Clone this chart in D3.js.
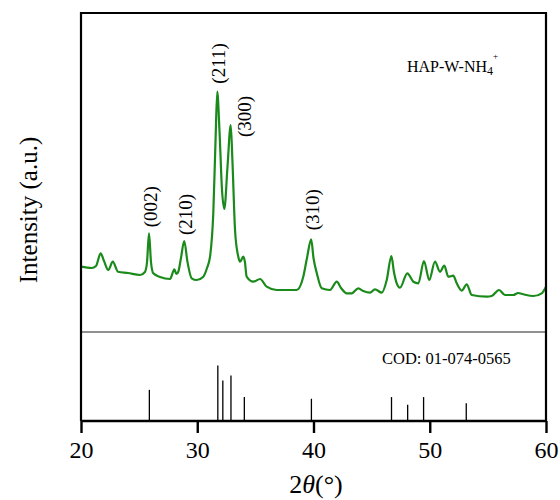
<!DOCTYPE html>
<html>
<head>
<meta charset="utf-8">
<script src="https://cdn.jsdelivr.net/npm/d3@7"></script>
<style>
  html, body { margin: 0; padding: 0; background: #fff; }
  svg { display: block; }
  svg text { font-family: "Liberation Serif", "Times New Roman", "DejaVu Serif", serif; fill: #000; }
  .frame { fill: none; stroke: #000; stroke-width: 2.2; }
  .axis path, .axis line { stroke: #000; stroke-width: 2.4; }
  .divider { stroke: #6b6b6b; stroke-width: 1.3; }
  .pattern { fill: none; stroke: #1a8a1a; stroke-width: 2.2; stroke-linejoin: round; }
  .stick { stroke: #000; stroke-width: 1.3; }
  .hkl { font-size: 19px; }
</style>
</head>
<body>
<svg id="chart" width="560" height="500"></svg>
<script>
  // measured pattern, HAP-W-NH4+ (2θ in degrees, intensity in counts)
  const twoTheta = [
    20.0, 20.92, 21.29, 21.69, 21.98, 22.35, 22.73, 23.18, 24.04, 25.08,
    25.5, 25.68, 25.85, 26.02, 26.22, 26.8, 27.66, 28.03, 28.2, 28.37,
    28.6, 28.88, 29.16, 29.52, 29.95, 30.52, 30.84, 31.1, 31.38, 31.57,
    31.72, 31.91, 32.13, 32.33, 32.6, 32.88, 33.03, 33.25, 33.5, 33.68,
    33.96, 34.1, 34.25, 34.82, 35.4, 35.97, 36.83, 38.55, 39.12, 39.44,
    39.8, 40.0, 40.28, 40.71, 41.42, 42.0, 42.37, 42.86, 43.29, 43.85,
    44.28, 44.86, 45.29, 45.87, 46.3, 46.7, 46.92, 47.16, 47.44, 48.07,
    48.59, 49.02, 49.5, 49.96, 50.45, 50.88, 51.25, 51.6, 52.02, 52.32,
    52.75, 53.18, 53.61, 54.9, 55.33, 55.96, 56.47, 57.19, 57.6, 58.05,
    58.91, 59.63, 60.0
  ];
  const intensity = [
    653, 640, 660, 787, 710, 620, 703, 603, 590, 570,
    600, 700, 987, 700, 587, 550, 530, 627, 580, 603,
    740, 910, 700, 537, 520, 553, 640, 753, 1190, 1900,
    2403, 2020, 1420, 1230, 1650, 2070, 1700, 1020, 770, 703,
    753, 700, 553, 503, 530, 453, 420, 420, 553, 740,
    927, 740, 590, 437, 420, 503, 440, 387, 387, 437,
    410, 393, 427, 393, 520, 760, 600, 487, 443, 587,
    503, 487, 710, 520, 703, 603, 663, 553, 563, 487,
    413, 477, 370, 353, 360, 420, 370, 370, 390, 377,
    360, 387, 453
  ];

  // reference card COD 01-074-0565
  const refPos = [25.88, 31.77, 32.2, 32.9, 34.05, 39.82, 46.71, 48.1, 49.47, 53.14];
  const refInt = [56, 100, 73, 82, 43, 40, 43, 29, 43, 32];

  // reflections that get an index label
  const hklLabels = ['(002)', '(210)', '(211)', '(300)', '(310)'];
  const hklPos = [25.85, 28.88, 31.72, 32.88, 39.8];

  const xTicks = [20, 30, 40, 50, 60];

  const mLeft = 81, mRight = 546, mTop = 13, mBottom = 421, split = 332;
  const serif = '"Liberation Serif", "Times New Roman", serif';

  const svg = d3.select('#chart');

  const x = d3.scaleLinear().domain([20, 60]).range([mLeft, mRight]);
  const yTop = d3.scaleLinear().domain([0, 3190]).range([split, mTop]);
  const yRef = d3.scaleLinear().domain([0, 160]).range([mBottom, split]);

  // measured curve
  const pts = twoTheta.map((t, i) => [t, intensity[i]]);
  svg.append('path').attr('class', 'pattern')
    .attr('d', d3.line().x(d => x(d[0])).y(d => yTop(d[1])).curve(d3.curveMonotoneX)(pts));

  // reference sticks
  svg.selectAll('line.stick').data(refPos).join('line').attr('class', 'stick')
    .attr('x1', d => x(d)).attr('x2', d => x(d))
    .attr('y1', yRef(0)).attr('y2', (d, i) => yRef(refInt[i]));

  // divider between panels
  svg.append('line').attr('class', 'divider')
    .attr('x1', mLeft).attr('x2', mRight).attr('y1', split).attr('y2', split);

  // frame (top, left, right)
  svg.append('path').attr('class', 'frame')
    .attr('d', `M${mLeft},${mBottom}V${mTop}H${mRight}V${mBottom}`);

  // bottom axis
  const xAxis = d3.axisBottom(x).tickValues(xTicks).tickSize(12).tickPadding(8).tickFormat(d3.format('d'));
  const gx = svg.append('g').attr('class', 'axis').attr('transform', `translate(0,${mBottom})`).call(xAxis);
  gx.attr('font-family', serif).attr('font-size', 24);
  gx.select('.domain').attr('d', `M${mLeft},0H${mRight}`);

  // index labels, rotated, just above their peaks (the (300) one sits beside its peak)
  const shiftX = [1, 1.6, 1, 14, 1.8];
  const gapY = [6, 6, 8, -12, 9];
  const idx = i => twoTheta.indexOf(hklPos[i]);
  svg.selectAll('text.hkl').data(hklLabels).join('text').attr('class', 'hkl')
    .attr('transform', (d, i) => {
      const px = x(hklPos[i]) + shiftX[i];
      const py = yTop(intensity[idx(i)]) - gapY[i];
      return `translate(${px},${py}) rotate(-90)`;
    })
    .attr('dominant-baseline', 'central')
    .attr('text-anchor', 'start')
    .text(d => d);

  // sample name
  const name = svg.append('text').attr('x', 407).attr('y', 72).style('font-size', '16px');
  name.append('tspan').text('HAP-W-NH');
  name.append('tspan').attr('dy', 3).style('font-size', '12px').text('4');
  name.append('tspan').attr('dy', -16).style('font-size', '9px').text('+');

  svg.append('text').attr('x', 382).attr('y', 364).style('font-size', '16.5px').text('COD: 01-074-0565');

  // axis titles
  const xt = svg.append('text').attr('x', 316).attr('y', 493).attr('text-anchor', 'middle').style('font-size', '26px');
  xt.append('tspan').text('2');
  xt.append('tspan').style('font-style', 'italic').text('θ');
  xt.append('tspan').text('(°)');

  svg.append('text')
    .attr('transform', 'translate(37,210) rotate(-90)')
    .attr('text-anchor', 'middle')
    .style('font-size', '25px')
    .text('Intensity (a.u.)');
</script>
</body>
</html>
